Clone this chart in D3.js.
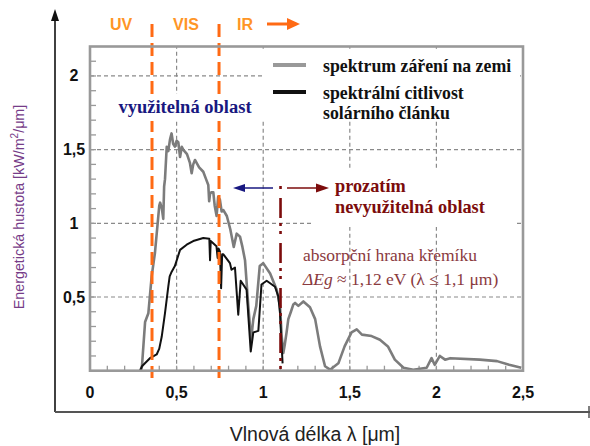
<!DOCTYPE html>
<html lang="cs">
<head>
<meta charset="utf-8">
<title>Spektrum a citlivost</title>
<script src="https://cdn.jsdelivr.net/npm/d3@7/dist/d3.min.js"></script>
<style>
  body { margin: 0; background: #fff; }
  svg { display: block; }
</style>
</head>
<body>
<div id="chart"></div>
<script>
// spektrum záření na zemi (gray)
var spectrumWl = [0.29, 0.30, 0.318, 0.337, 0.356, 0.375, 0.40, 0.405, 0.415, 0.423, 0.428, 0.433, 0.443, 0.452, 0.462, 0.471, 0.48, 0.49, 0.50, 0.51, 0.52, 0.53, 0.538, 0.56, 0.577, 0.587, 0.596, 0.606, 0.63, 0.654, 0.67, 0.683, 0.688, 0.693, 0.70, 0.712, 0.72, 0.731, 0.74, 0.75, 0.76, 0.77, 0.79, 0.81, 0.83, 0.847, 0.866, 0.88, 0.895, 0.914, 0.93, 0.943, 0.96, 0.98, 1.0, 1.04, 1.078, 1.097, 1.107, 1.116, 1.125, 1.135, 1.145, 1.16, 1.174, 1.184, 1.203, 1.232, 1.27, 1.30, 1.328, 1.357, 1.386, 1.434, 1.47, 1.51, 1.54, 1.57, 1.626, 1.674, 1.72, 1.76, 1.81, 1.866, 1.944, 1.972, 1.99, 2.02, 2.05, 2.08, 2.25, 2.35, 2.42, 2.49];
var spectrumVal = [0.00, 0.03, 0.33, 0.39, 0.64, 0.80, 1.12, 1.14, 1.10, 1.03, 1.25, 1.30, 1.52, 1.49, 1.57, 1.61, 1.54, 1.52, 1.56, 1.55, 1.45, 1.52, 1.50, 1.47, 1.41, 1.34, 1.40, 1.43, 1.38, 1.35, 1.30, 1.26, 1.15, 1.20, 1.21, 1.21, 1.12, 1.05, 1.18, 1.16, 1.08, 1.09, 1.05, 0.96, 0.84, 0.93, 0.91, 0.84, 0.75, 0.44, 0.21, 0.35, 0.44, 0.71, 0.73, 0.66, 0.55, 0.44, 0.23, 0.12, 0.18, 0.26, 0.35, 0.40, 0.45, 0.46, 0.44, 0.47, 0.43, 0.35, 0.165, 0.03, 0.007, 0.05, 0.165, 0.26, 0.28, 0.245, 0.235, 0.21, 0.165, 0.075, 0.02, 0.007, 0.02, 0.085, 0.04, 0.10, 0.075, 0.085, 0.075, 0.065, 0.04, 0.02];

// spektrální citlivost solárního článku (black)
var cellWl = [0.29, 0.30, 0.346, 0.385, 0.40, 0.414, 0.433, 0.452, 0.46, 0.471, 0.49, 0.52, 0.558, 0.596, 0.654, 0.689, 0.693, 0.697, 0.73, 0.737, 0.742, 0.75, 0.757, 0.763, 0.77, 0.808, 0.817, 0.837, 0.856, 0.87, 0.904, 0.928, 0.943, 0.972, 0.99, 1.02, 1.068, 1.087, 1.097, 1.105, 1.112];
var cellVal = [0.00, 0.03, 0.085, 0.11, 0.15, 0.23, 0.39, 0.57, 0.64, 0.67, 0.71, 0.82, 0.855, 0.88, 0.90, 0.895, 0.75, 0.88, 0.845, 0.765, 0.83, 0.81, 0.56, 0.79, 0.79, 0.73, 0.685, 0.70, 0.38, 0.61, 0.55, 0.13, 0.26, 0.27, 0.585, 0.61, 0.57, 0.505, 0.39, 0.2, 0.05];

var xTicks = [0, 0.5, 1, 1.5, 2, 2.5];
var xTickLabels = ["0", "0,5", "1", "1,5", "2", "2,5"];
var yTicks = [0.5, 1, 1.5, 2];
var yTickLabels = ["0,5", "1", "1,5", "2"];
var xGrid = [0.5, 1, 1.5, 2];
var yGrid = [0.5, 1, 1.5, 2];
var bandEdges = [0.358, 0.745];   // UV|VIS, VIS|IR
var siEdge = 1.1;                 // absorpční hrana křemíku

var W = 590, H = 446;
var x = d3.scaleLinear().domain([0, 2.5]).range([90, 523]);
var y = d3.scaleLinear().domain([0, 2.2]).range([370.7, 46.5]);

var svg = d3.select("#chart").append("svg").attr("width", W).attr("height", H);

var orange = "#ff6a14", orangeText = "#ff9526", darkRed = "#7c0c0c", navy = "#181880";
var serif = "'Liberation Serif', 'Times New Roman', serif";
var sans = "Arial, 'Liberation Sans', sans-serif";

// plot area
svg.append("rect").attr("x", x(0)).attr("y", y(2.2)).attr("width", x(2.5) - x(0)).attr("height", y(0) - y(2.2))
  .attr("fill", "#fff");

// grid
svg.append("g").selectAll("line").data(xGrid).enter().append("line")
  .attr("x1", function (d) { return x(d); }).attr("x2", function (d) { return x(d); })
  .attr("y1", y(0)).attr("y2", y(2.2))
  .attr("stroke", "#8a8a8a").attr("stroke-width", 1.2).attr("stroke-dasharray", "4,3");
svg.append("g").selectAll("line").data(yGrid).enter().append("line")
  .attr("y1", function (d) { return y(d); }).attr("y2", function (d) { return y(d); })
  .attr("x1", x(0)).attr("x2", x(2.5))
  .attr("stroke", "#8a8a8a").attr("stroke-width", 1.2).attr("stroke-dasharray", "4,3");

// minor ticks inside the frame
var minorX = d3.range(1, 25).map(function (i) { return i / 10; });
var minorY = d3.range(1, 22).map(function (i) { return i / 10; });
svg.append("g").selectAll("line").data(minorX).enter().append("line")
  .attr("x1", function (d) { return x(d); }).attr("x2", function (d) { return x(d); })
  .attr("y1", y(0)).attr("y2", y(0) - 5).attr("stroke", "#999").attr("stroke-width", 1.3);
svg.append("g").selectAll("line").data(minorY).enter().append("line")
  .attr("y1", function (d) { return y(d); }).attr("y2", function (d) { return y(d); })
  .attr("x1", x(0)).attr("x2", x(0) + 6).attr("stroke", "#999").attr("stroke-width", 1.3);

// curves
var line = d3.line().x(function (d) { return x(d[0]); }).y(function (d) { return y(d[1]); });
svg.append("path").datum(d3.zip(spectrumWl, spectrumVal)).attr("d", line)
  .attr("fill", "none").attr("stroke", "#7c7c7c").attr("stroke-width", 2.6).attr("stroke-linejoin", "round");
svg.append("path").datum(d3.zip(cellWl, cellVal)).attr("d", line)
  .attr("fill", "none").attr("stroke", "#111").attr("stroke-width", 2).attr("stroke-linejoin", "round");

// band boundaries
svg.append("g").selectAll("line").data(bandEdges).enter().append("line")
  .attr("x1", function (d) { return x(d); }).attr("x2", function (d) { return x(d); })
  .attr("y1", 24).attr("y2", 378)
  .attr("stroke", orange).attr("stroke-width", 3).attr("stroke-dasharray", "13,6");
svg.append("line").attr("x1", x(siEdge)).attr("x2", x(siEdge)).attr("y1", 186).attr("y2", y(0))
  .attr("stroke", darkRed).attr("stroke-width", 2.6).attr("stroke-dasharray", "3,9,20,5,3,5");

// white boxes behind labels
svg.append("rect").attr("x", 262).attr("y", 50).attr("width", 258).attr("height", 70).attr("fill", "#fff");
svg.append("rect").attr("x", 116).attr("y", 94).attr("width", 138).attr("height", 27).attr("fill", "#fff");
svg.append("rect").attr("x", 312).attr("y", 170).attr("width", 202).attr("height", 57).attr("fill", "#fff");

// frame
svg.append("rect").attr("x", x(0)).attr("y", y(2.2)).attr("width", x(2.5) - x(0)).attr("height", y(0) - y(2.2))
  .attr("fill", "none").attr("stroke", "#999").attr("stroke-width", 2.6);

// tick labels
svg.append("g").selectAll("text").data(xTicks).enter().append("text")
  .attr("x", function (d) { return x(d); }).attr("y", 392)
  .attr("text-anchor", "middle").attr("dominant-baseline", "central")
  .attr("font-family", sans).attr("font-weight", "bold").attr("font-size", 16)
  .attr("fill", "#111").text(function (d, i) { return xTickLabels[i]; });
svg.append("g").selectAll("text").data(yTicks).enter().append("text")
  .attr("x", 74).attr("y", function (d) { return y(d); })
  .attr("text-anchor", "middle").attr("dominant-baseline", "central")
  .attr("font-family", sans).attr("font-weight", "bold").attr("font-size", 16)
  .attr("fill", "#111").text(function (d, i) { return yTickLabels[i]; });

// outer axes
svg.append("line").attr("x1", 55).attr("x2", 55).attr("y1", 18).attr("y2", 412).attr("stroke", "#111").attr("stroke-width", 1.6);
svg.append("path").attr("d", "M55,9 L51,21 L59,21 Z").attr("fill", "#111");
svg.append("line").attr("x1", 55).attr("x2", 590).attr("y1", 412).attr("y2", 412).attr("stroke", "#555").attr("stroke-width", 2);
svg.append("line").attr("x1", 589).attr("x2", 589).attr("y1", 406).attr("y2", 418).attr("stroke", "#555").attr("stroke-width", 1.5);

// axis titles
svg.append("text").attr("x", 315).attr("y", 441).attr("text-anchor", "middle")
  .attr("font-family", sans).attr("font-size", 19.5).attr("fill", "#222")
  .text("Vlnová délka λ [μm]");
var yl = svg.append("text").attr("transform", "translate(24,207) rotate(-90)").attr("text-anchor", "middle")
  .attr("font-family", sans).attr("font-size", 14.3).attr("fill", "#763c88");
yl.append("tspan").text("Energetická hustota [kW/m");
yl.append("tspan").attr("dy", -6).attr("font-size", 10).text("2");
yl.append("tspan").attr("dy", 6).text("/μm]");

// UV / VIS / IR
var bandLabels = [["UV", 121], ["VIS", 186], ["IR", 245]];
svg.append("g").selectAll("text").data(bandLabels).enter().append("text")
  .attr("x", function (d) { return d[1]; }).attr("y", 30).attr("text-anchor", "middle")
  .attr("font-family", sans).attr("font-weight", "bold").attr("font-size", 16)
  .attr("fill", orangeText).text(function (d) { return d[0]; });
svg.append("line").attr("x1", 267).attr("x2", 290).attr("y1", 24).attr("y2", 24).attr("stroke", orange).attr("stroke-width", 3);
svg.append("path").attr("d", "M300,24 L287,18 L287,30 Z").attr("fill", orange);

// legend
svg.append("line").attr("x1", 273).attr("x2", 306).attr("y1", 65).attr("y2", 65).attr("stroke", "#999").attr("stroke-width", 4);
svg.append("line").attr("x1", 273).attr("x2", 306).attr("y1", 92).attr("y2", 92).attr("stroke", "#111").attr("stroke-width", 4);
var legendText = [["spektrum záření na zemi", 72], ["spektrální citlivost", 99], ["solárního článku", 119]];
svg.append("g").selectAll("text").data(legendText).enter().append("text")
  .attr("x", 323).attr("y", function (d) { return d[1]; })
  .attr("font-family", serif).attr("font-weight", "bold").attr("font-size", 17.8)
  .attr("fill", "#111").text(function (d) { return d[0]; });

// využitelná oblast
svg.append("text").attr("x", 185).attr("y", 113).attr("text-anchor", "middle")
  .attr("font-family", serif).attr("font-weight", "bold").attr("font-size", 18.5)
  .attr("fill", navy).text("využitelná oblast");

// arrows at the silicon edge
svg.append("line").attr("x1", 243).attr("x2", 273).attr("y1", 188).attr("y2", 188).attr("stroke", navy).attr("stroke-width", 1.5);
svg.append("path").attr("d", "M233,188 L245,184 L245,192 Z").attr("fill", navy);
svg.append("line").attr("x1", 287).attr("x2", 318).attr("y1", 188).attr("y2", 188).attr("stroke", darkRed).attr("stroke-width", 1.5);
svg.append("path").attr("d", "M329,188 L316,183.5 L316,192.5 Z").attr("fill", darkRed);

var nText = [["prozatím", 192], ["nevyužitelná oblast", 213]];
svg.append("g").selectAll("text").data(nText).enter().append("text")
  .attr("x", 335).attr("y", function (d) { return d[1]; })
  .attr("font-family", serif).attr("font-weight", "bold").attr("font-size", 18.3)
  .attr("fill", darkRed).text(function (d) { return d[0]; });

// absorpční hrana
var absColor = "#8a3a3e";
svg.append("text").attr("x", 303).attr("y", 261)
  .attr("font-family", serif).attr("font-size", 17.5)
  .attr("fill", absColor).text("absorpční hrana křemíku");
var eg = svg.append("text").attr("x", 303).attr("y", 285)
  .attr("font-family", serif).attr("font-size", 17.5)
  .attr("fill", absColor);
eg.append("tspan").attr("font-style", "italic").text("ΔEg");
eg.append("tspan").text(" ≈ 1,12 eV (λ ≤ 1,1 μm)");
</script>
</body>
</html>
